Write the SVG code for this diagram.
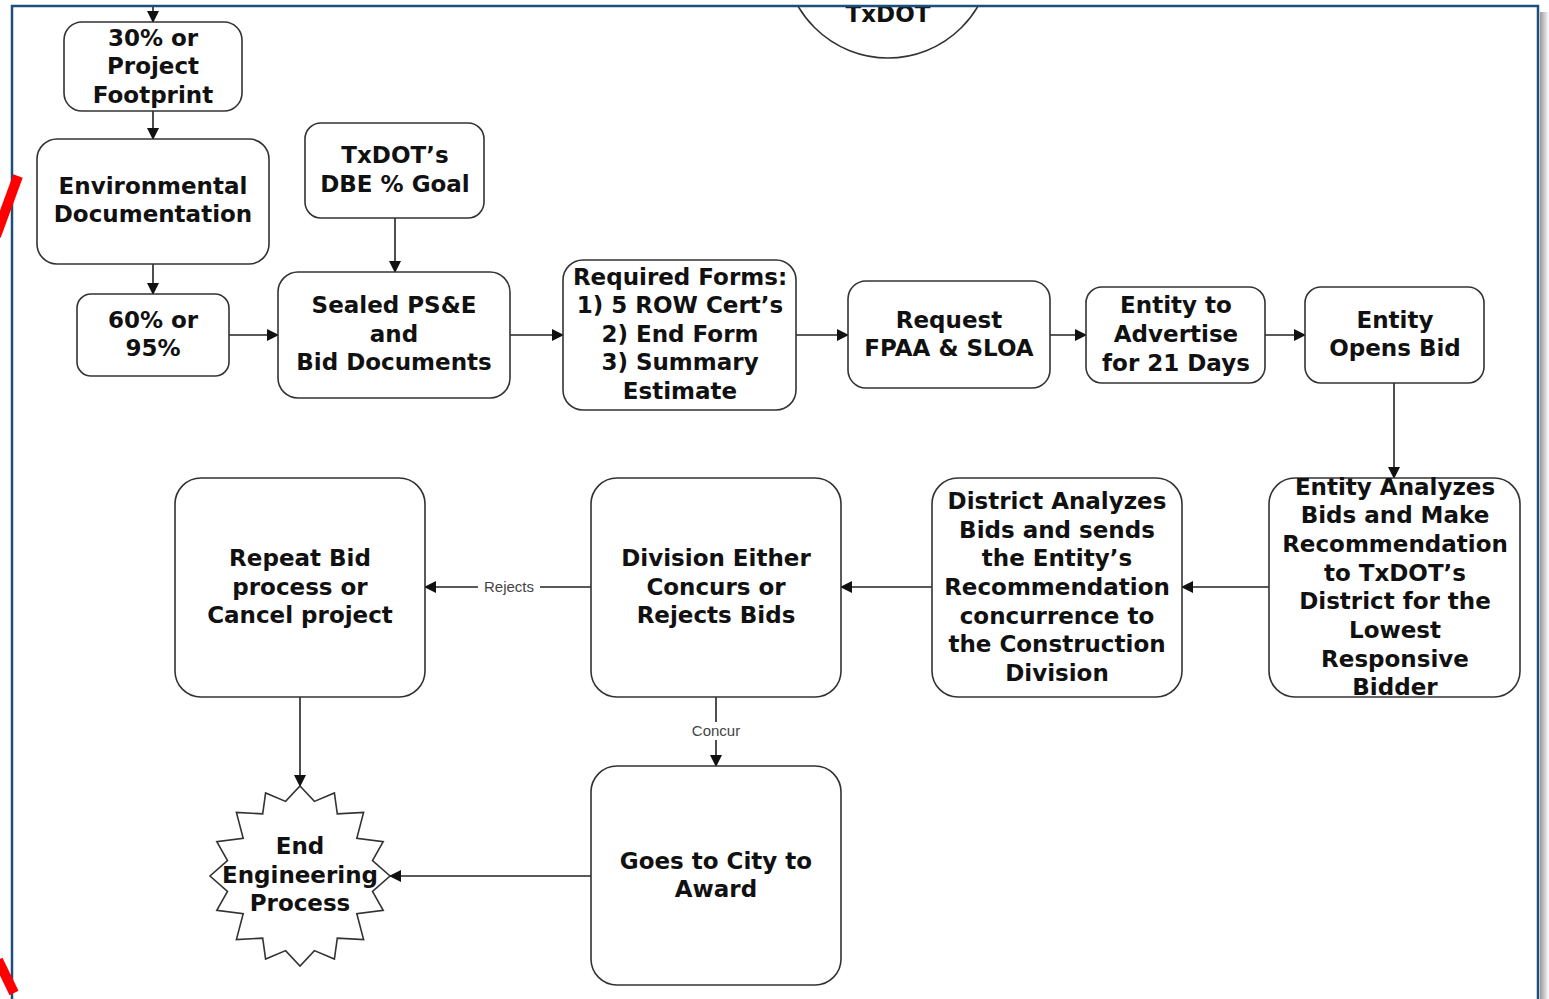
<svg xmlns="http://www.w3.org/2000/svg" width="1549" height="999" viewBox="0 0 1549 999">
<style>
.box{fill:#fff;stroke:#333;stroke-width:1.6}
.t{font-family:"DejaVu Sans",Verdana,sans-serif;font-weight:bold;font-size:23px;fill:#111;text-anchor:middle}
.c{stroke:#222;stroke-width:1.6;fill:none;marker-end:url(#ah)}
.lbl{font-family:"Liberation Sans",Arial,sans-serif;font-size:15px;fill:#444;text-anchor:middle}
</style>
<defs>
<marker id="ah" markerUnits="userSpaceOnUse" markerWidth="12" markerHeight="12" refX="11" refY="6" orient="auto">
<path d="M0,0 L12,6 L0,12 z" fill="#111"/>
</marker>
<linearGradient id="sh" x1="0" y1="0" x2="1" y2="0">
<stop offset="0" stop-color="#999"/>
<stop offset="1" stop-color="#fff"/>
</linearGradient>
<clipPath id="inner"><rect x="13" y="7" width="1524" height="1000"/></clipPath>
</defs>
<rect width="1549" height="999" fill="#fff"/>
<rect x="1540" y="12" width="9" height="990" fill="url(#sh)"/>

<g clip-path="url(#inner)">
<g id="txdot">
<circle cx="888" cy="-46" r="104" class="box"/>
<text class="t" x="888" y="22">TxDOT</text>
</g>

<g id="connectors">
<line class="c" x1="153" y1="-5" x2="153" y2="22"/>
<line class="c" x1="153" y1="111" x2="153" y2="139"/>
<line class="c" x1="153" y1="264" x2="153" y2="294"/>
<line class="c" x1="229" y1="335" x2="278" y2="335"/>
<line class="c" x1="395" y1="218" x2="395" y2="272"/>
<line class="c" x1="510" y1="335" x2="563" y2="335"/>
<line class="c" x1="796" y1="335" x2="848" y2="335"/>
<line class="c" x1="1050" y1="335" x2="1086" y2="335"/>
<line class="c" x1="1265" y1="335" x2="1305" y2="335"/>
<line class="c" x1="1394" y1="383" x2="1394" y2="478"/>
<line class="c" x1="1269" y1="587" x2="1182" y2="587"/>
<line class="c" x1="932" y1="587" x2="841" y2="587"/>
<line class="c" x1="591" y1="587" x2="425" y2="587"/>
<line class="c" x1="716" y1="697" x2="716" y2="766"/>
<line class="c" x1="300" y1="697" x2="300" y2="786"/>
<line class="c" x1="591" y1="876" x2="390" y2="876"/>
<rect x="478" y="578" width="62" height="18" fill="#fff"/>
<text class="lbl" x="509" y="592">Rejects</text>
<rect x="684" y="722" width="64" height="18" fill="#fff"/>
<text class="lbl" x="716" y="736">Concur</text>
</g>

<g id="n30">
<rect class="box" x="64" y="22" width="178" height="89" rx="18"/>
<text class="t" x="153" y="46">30% or</text>
<text class="t" x="153" y="74">Project</text>
<text class="t" x="153" y="103">Footprint</text>
</g>
<g id="env">
<rect class="box" x="37" y="139" width="232" height="125" rx="20"/>
<text class="t" x="153" y="194">Environmental</text>
<text class="t" x="153" y="222">Documentation</text>
</g>
<g id="dbe">
<rect class="box" x="305" y="123" width="179" height="95" rx="16"/>
<text class="t" x="395" y="163">TxDOT’s</text>
<text class="t" x="395" y="192">DBE % Goal</text>
</g>
<g id="n60">
<rect class="box" x="77" y="294" width="152" height="82" rx="14"/>
<text class="t" x="153" y="328">60% or</text>
<text class="t" x="153" y="356">95%</text>
</g>
<g id="sealed">
<rect class="box" x="278" y="272" width="232" height="126" rx="20"/>
<text class="t" x="394" y="313">Sealed PS&amp;E</text>
<text class="t" x="394" y="342">and</text>
<text class="t" x="394" y="370">Bid Documents</text>
</g>
<g id="forms">
<rect class="box" x="563" y="260" width="233" height="150" rx="20"/>
<text class="t" x="680" y="285">Required Forms:</text>
<text class="t" x="680" y="313">1) 5 ROW Cert’s</text>
<text class="t" x="680" y="342">2) End Form</text>
<text class="t" x="680" y="370">3) Summary</text>
<text class="t" x="680" y="399">Estimate</text>
</g>
<g id="fpaa">
<rect class="box" x="848" y="281" width="202" height="107" rx="18"/>
<text class="t" x="949" y="328">Request</text>
<text class="t" x="949" y="356">FPAA &amp; SLOA</text>
</g>
<g id="advertise">
<rect class="box" x="1086" y="287" width="179" height="96" rx="16"/>
<text class="t" x="1176" y="313">Entity to</text>
<text class="t" x="1176" y="342">Advertise</text>
<text class="t" x="1176" y="371">for 21 Days</text>
</g>
<g id="opens">
<rect class="box" x="1305" y="287" width="179" height="96" rx="16"/>
<text class="t" x="1395" y="328">Entity</text>
<text class="t" x="1395" y="356">Opens Bid</text>
</g>
<g id="analyzes">
<rect class="box" x="1269" y="478" width="251" height="219" rx="26"/>
<text class="t" x="1395" y="495">Entity Analyzes</text>
<text class="t" x="1395" y="523">Bids and Make</text>
<text class="t" x="1395" y="552">Recommendation</text>
<text class="t" x="1395" y="581">to TxDOT’s</text>
<text class="t" x="1395" y="609">District for the</text>
<text class="t" x="1395" y="638">Lowest</text>
<text class="t" x="1395" y="667">Responsive</text>
<text class="t" x="1395" y="695">Bidder</text>
</g>
<g id="district">
<rect class="box" x="932" y="478" width="250" height="219" rx="26"/>
<text class="t" x="1057" y="509">District Analyzes</text>
<text class="t" x="1057" y="538">Bids and sends</text>
<text class="t" x="1057" y="566">the Entity’s</text>
<text class="t" x="1057" y="595">Recommendation</text>
<text class="t" x="1057" y="624">concurrence to</text>
<text class="t" x="1057" y="652">the Construction</text>
<text class="t" x="1057" y="681">Division</text>
</g>
<g id="division">
<rect class="box" x="591" y="478" width="250" height="219" rx="26"/>
<text class="t" x="716" y="566">Division Either</text>
<text class="t" x="716" y="595">Concurs or</text>
<text class="t" x="716" y="623">Rejects Bids</text>
</g>
<g id="repeat">
<rect class="box" x="175" y="478" width="250" height="219" rx="26"/>
<text class="t" x="300" y="566">Repeat Bid</text>
<text class="t" x="300" y="595">process or</text>
<text class="t" x="300" y="623">Cancel project</text>
</g>
<g id="city">
<rect class="box" x="591" y="766" width="250" height="219" rx="26"/>
<text class="t" x="716" y="869">Goes to City to</text>
<text class="t" x="716" y="897">Award</text>
</g>
<g id="end">
<polygon class="box" points="300.0,786.0 314.4,801.4 334.4,792.9 337.3,813.8 363.6,812.4 356.8,838.3 383.2,841.6 372.5,860.6 390.0,876.0 372.5,891.4 383.2,910.4 356.8,913.7 363.6,939.6 337.3,938.2 334.4,959.1 314.4,950.6 300.0,966.0 285.6,950.6 265.6,959.1 262.7,938.2 236.4,939.6 243.2,913.7 216.8,910.4 227.5,891.4 210.0,876.0 227.5,860.6 216.8,841.6 243.2,838.3 236.4,812.4 262.7,813.8 265.6,792.9 285.6,801.4"/>
<text class="t" x="300" y="854">End</text>
<text class="t" x="300" y="883">Engineering</text>
<text class="t" x="300" y="911">Process</text>
</g>
</g>

<rect x="12" y="6" width="1526" height="1010" fill="none" stroke="#1c4f7c" stroke-width="2.5"/>
<line x1="18" y1="176" x2="-4" y2="236" stroke="#f00" stroke-width="10"/>
<line x1="-2" y1="960" x2="14" y2="993" stroke="#f00" stroke-width="10"/>
</svg>
